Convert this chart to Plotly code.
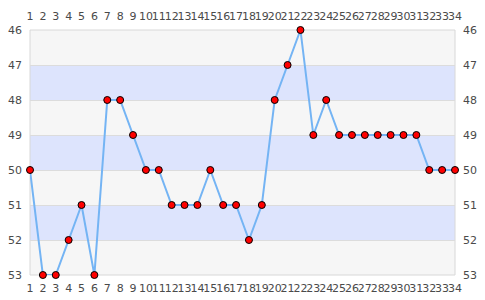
import plotly.graph_objects as go

# Ranking positions per round
rounds = list(range(1, 35))
positions = [50, 53, 53, 52, 51, 53, 48, 48, 49, 50, 50, 51, 51, 51, 50, 51, 51, 52, 51,
             48, 47, 46, 49, 48, 49, 49, 49, 49, 49, 49, 49, 50, 50, 50]
y_ticks = [46, 47, 48, 49, 50, 51, 52, 53]

BAND_GRAY = "#f6f6f6"
BAND_BLUE = "#dde4fd"
LINE_BLUE = "#74b4f4"
TEXT = "#4a4a4a"
font = dict(family="DejaVu Sans", size=11, color=TEXT)

fig = go.Figure()

fig.add_trace(go.Scatter(
    x=rounds, y=positions, mode="lines+markers",
    line=dict(color=LINE_BLUE, width=2),
    marker=dict(color="#ff0000", size=7, line=dict(color="#000000", width=1)),
    cliponaxis=False, hoverinfo="x+y", showlegend=False,
))

# Alternating horizontal bands, one per position step
shapes = []
for i, lo in enumerate(y_ticks[:-1]):
    shapes.append(dict(
        type="rect", xref="paper", yref="y", x0=0, x1=1, y0=lo, y1=lo + 1,
        fillcolor=BAND_GRAY if i % 2 == 0 else BAND_BLUE, line=dict(width=0),
        layer="below",
    ))
shapes.append(dict(type="rect", xref="paper", yref="paper", x0=0, x1=1, y0=0, y1=1,
                   line=dict(color="#d8d8d8", width=1), layer="below"))
fig.update_layout(shapes=shapes)

common_x = dict(range=[1, 34], tickvals=rounds, ticktext=[str(r) for r in rounds],
                showgrid=False, zeroline=False, showline=False, ticks="",
                tickfont=font, tickangle=0, automargin=False, fixedrange=True)
common_y = dict(range=[53, 46], tickvals=y_ticks, ticktext=[str(v) for v in y_ticks],
                zeroline=False, showline=False, ticks="", tickfont=font,
                automargin=False, fixedrange=True, ticklabelstandoff=7)

fig.update_layout(
    width=485, height=300,
    margin=dict(l=30, r=30, t=30, b=25),
    paper_bgcolor="white", plot_bgcolor="rgba(0,0,0,0)",
    xaxis=dict(**common_x, side="bottom", ticklabelstandoff=5),
    xaxis2=dict(**common_x, side="top", overlaying="x", anchor="y", ticklabelstandoff=7),
    yaxis=dict(**common_y, side="left", showgrid=True, gridcolor="#dcdcdc", gridwidth=1),
    yaxis2=dict(**common_y, side="right", overlaying="y", anchor="x", showgrid=False),
)

# Invisible trace so the secondary axes are drawn
fig.add_trace(go.Scatter(x=[1, 34], y=[46, 53], xaxis="x2", yaxis="y2",
                         mode="markers", marker=dict(opacity=0), hoverinfo="skip",
                         showlegend=False))

fig.write_html("out.html")
